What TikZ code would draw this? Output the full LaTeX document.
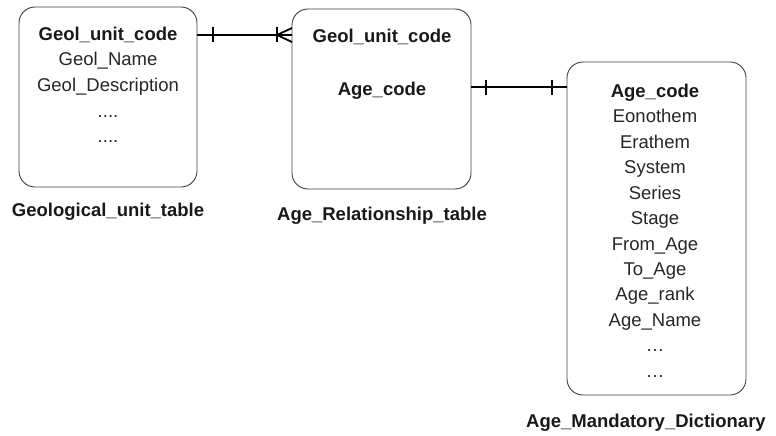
\documentclass[tikz,border=0pt]{standalone}
\usepackage{fontspec}
\setmainfont{Liberation Sans}
\begin{document}
\begin{tikzpicture}[x=1pt,y=-1pt,
  tbl/.style={draw=black!75, line width=0.9pt, rounded corners=16pt, inner sep=0pt},
  fld/.style={font=\fontsize{18.5}{22}\selectfont, inner sep=0pt, text=black!85, anchor=base},
  keyfld/.style={font=\fontsize{18.5}{22}\selectfont\bfseries, inner sep=0pt, text=black!90, anchor=base},
  tcap/.style={font=\fontsize{18.5}{22}\selectfont\bfseries, inner sep=0pt, text=black!90, anchor=base},
  rel/.style={line width=2.8pt},
  tickmark/.style={line width=2.6pt}]
\useasboundingbox (0,0) rectangle (776,436);
% tables
\node[tbl, minimum width=178pt, minimum height=180pt] (geol) at (108,97) {};
\node[tbl, minimum width=179pt, minimum height=180pt] (rel) at (381.5,99) {};
\node[tbl, minimum width=179pt, minimum height=333pt] (dict) at (656.5,228.5) {};
% table 1 fields
\node[keyfld] (g1) at (108,41) {Geol\_unit\_code};
\node[fld] (g2) at (108,66) {Geol\_Name};
\node[fld] (g3) at (108,92) {Geol\_Description};
\node[fld] (g4) at (108,117) {....};
\node[fld] (g5) at (108,142) {....};
\node[tcap] (c1) at (108,216) {Geological\_unit\_table};
% table 2 fields
\node[keyfld] (r1) at (382,43) {Geol\_unit\_code};
\node[keyfld] (r2) at (382,95) {Age\_code};
\node[tcap] (c2) at (382,220) {Age\_Relationship\_table};
% table 3 fields
\node[keyfld] (d1) at (655,97) {Age\_code};
\node[fld] (d2) at (655,122) {Eonothem};
\node[fld] (d3) at (655,148) {Erathem};
\node[fld] (d4) at (655,173) {System};
\node[fld] (d5) at (655,199) {Series};
\node[fld] (d6) at (655,224) {Stage};
\node[fld] (d7) at (655,250) {From\_Age};
\node[fld] (d8) at (655,275) {To\_Age};
\node[fld] (d9) at (655,300) {Age\_rank};
\node[fld] (d10) at (655,326) {Age\_Name};
\node[fld] (d11) at (655,351) {\dots};
\node[fld] (d12) at (655,377) {\dots};
\node[tcap] (c3) at (646,427) {Age\_Mandatory\_Dictionary};
% connector 1: one to many
\coordinate (a1) at (197,35);
\coordinate (b1) at (292,35);
\draw[rel] (a1) -- (b1);
\draw[tickmark] ([xshift=16pt]a1) ++(0,-7.5) -- ++(0,15);
\draw[tickmark] ([xshift=-15pt]b1) ++(0,-7.5) -- ++(0,15);
\draw[line width=1.8pt] ([xshift=-15pt]b1) -- ([yshift=-7pt]b1)
  ([xshift=-15pt]b1) -- ([yshift=7pt]b1);
% connector 2: one to one
\coordinate (a2) at (471,87);
\coordinate (b2) at (567,87);
\draw[rel] (a2) -- (b2);
\draw[tickmark] ([xshift=15pt]a2) ++(0,-7.5) -- ++(0,15);
\draw[tickmark] ([xshift=-15pt]b2) ++(0,-7.5) -- ++(0,15);
\end{tikzpicture}
\end{document}
